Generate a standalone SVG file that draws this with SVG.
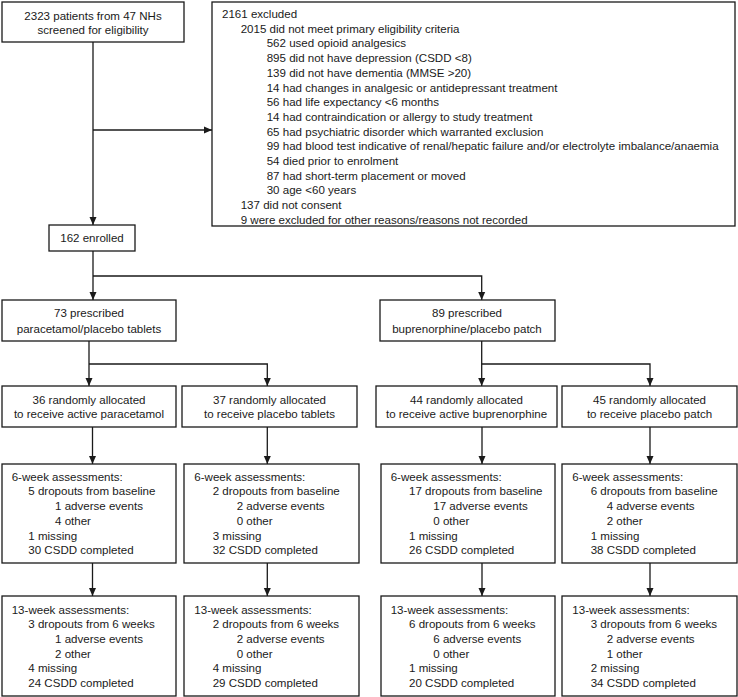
<svg xmlns="http://www.w3.org/2000/svg" width="738" height="697" viewBox="0 0 738 697">
<style>
.bx{fill:#fff;stroke:#1a1a1a;stroke-width:1.3}
text{font-family:"Liberation Sans",Arial,sans-serif;font-size:11.55px;fill:#1a1a1a}
.c{text-anchor:middle}
.ln{fill:none;stroke:#1a1a1a;stroke-width:1.3}
</style>
<defs>
<marker id="ah" viewBox="0 0 8 8" refX="8" refY="4" markerWidth="8" markerHeight="8" markerUnits="userSpaceOnUse" orient="auto">
<path d="M0,0.5 L8,4 L0,7.5 z" fill="#1a1a1a"/>
</marker>
</defs>
<rect width="738" height="697" fill="#fff"/>
<g id="connectors">
<path class="ln" d="M93,42 V225" marker-end="url(#ah)"/>
<path class="ln" d="M93,130 H212" marker-end="url(#ah)"/>
<path class="ln" d="M93,251 V300" marker-end="url(#ah)"/>
<path class="ln" d="M93,276 H481.7 V300" marker-end="url(#ah)"/>
<path class="ln" d="M89,341 V386" marker-end="url(#ah)"/>
<path class="ln" d="M89,364 H267.3 V386" marker-end="url(#ah)"/>
<path class="ln" d="M481.7,341 V386" marker-end="url(#ah)"/>
<path class="ln" d="M481.7,364 H650 V386" marker-end="url(#ah)"/>
<path class="ln" d="M92.5,427 V464" marker-end="url(#ah)"/>
<path class="ln" d="M267.3,427 V464" marker-end="url(#ah)"/>
<path class="ln" d="M482,427 V464" marker-end="url(#ah)"/>
<path class="ln" d="M650,427 V464" marker-end="url(#ah)"/>
<path class="ln" d="M92.5,563 V596" marker-end="url(#ah)"/>
<path class="ln" d="M267.3,563 V596" marker-end="url(#ah)"/>
<path class="ln" d="M482,563 V596" marker-end="url(#ah)"/>
<path class="ln" d="M650,563 V596" marker-end="url(#ah)"/>
</g>
<g id="screened">
<rect class="bx" x="2" y="2" width="182" height="40"/>
<text class="c" x="93" y="20">2323 patients from 47 NHs</text>
<text class="c" x="93" y="34">screened for eligibility</text>
</g>
<g id="excluded">
<rect class="bx" x="212" y="2" width="523" height="224"/>
<text x="222" y="18">2161 excluded</text>
<text x="240.7" y="32.7">2015 did not meet primary eligibility criteria</text>
<text x="266.7" y="47.4">562 used opioid analgesics</text>
<text x="266.7" y="62.1">895 did not have depression (CSDD &lt;8)</text>
<text x="266.7" y="76.8">139 did not have dementia (MMSE &gt;20)</text>
<text x="266.7" y="91.5">14 had changes in analgesic or antidepressant treatment</text>
<text x="266.7" y="106.2">56 had life expectancy &lt;6 months</text>
<text x="266.7" y="120.9">14 had contraindication or allergy to study treatment</text>
<text x="266.7" y="135.6">65 had psychiatric disorder which warranted exclusion</text>
<text x="266.7" y="150.3">99 had blood test indicative of renal/hepatic failure and/or electrolyte imbalance/anaemia</text>
<text x="266.7" y="165">54 died prior to enrolment</text>
<text x="266.7" y="179.7">87 had short-term placement or moved</text>
<text x="266.7" y="194.4">30 age &lt;60 years</text>
<text x="240.7" y="209.1">137 did not consent</text>
<text x="240.7" y="223.8">9 were excluded for other reasons/reasons not recorded</text>
</g>
<g id="enrolled">
<rect class="bx" x="49" y="225" width="86" height="26"/>
<text class="c" x="92" y="241.7">162 enrolled</text>
</g>
<g id="paracetamol">
<rect class="bx" x="2" y="300" width="174" height="41"/>
<text class="c" x="89" y="317.3">73 prescribed</text>
<text class="c" x="89" y="333.3">paracetamol/placebo tablets</text>
</g>
<g id="buprenorphine">
<rect class="bx" x="380" y="300" width="175" height="41"/>
<text class="c" x="467" y="317.3">89 prescribed</text>
<text class="c" x="467" y="333.3">buprenorphine/placebo patch</text>
</g>
<g id="active-paracetamol">
<rect class="bx" x="2" y="386" width="174" height="41"/>
<text class="c" x="89" y="404">36 randomly allocated</text>
<text class="c" x="89" y="418.3">to receive active paracetamol</text>
</g>
<g id="placebo-tablets">
<rect class="bx" x="182" y="386" width="175" height="41"/>
<text class="c" x="269.5" y="404">37 randomly allocated</text>
<text class="c" x="269.5" y="418.3">to receive placebo tablets</text>
</g>
<g id="active-buprenorphine">
<rect class="bx" x="376" y="386" width="181" height="41"/>
<text class="c" x="466.5" y="404">44 randomly allocated</text>
<text class="c" x="466.5" y="418.3">to receive active buprenorphine</text>
</g>
<g id="placebo-patch">
<rect class="bx" x="562" y="386" width="175" height="41"/>
<text class="c" x="649.5" y="404">45 randomly allocated</text>
<text class="c" x="649.5" y="418.3">to receive placebo patch</text>
</g>
<g id="wk6-a">
<rect class="bx" x="2" y="464" width="174" height="99"/>
<text x="11.7" y="480.7">6-week assessments:</text>
<text x="28.3" y="495.4">5 dropouts from baseline</text>
<text x="55" y="510.1">1 adverse events</text>
<text x="55" y="524.8">4 other</text>
<text x="28.3" y="539.5">1 missing</text>
<text x="28.3" y="554.2">30 CSDD completed</text>
</g>
<g id="wk6-b">
<rect class="bx" x="184" y="464" width="175" height="99"/>
<text x="194.3" y="480.7">6-week assessments:</text>
<text x="212.7" y="495.4">2 dropouts from baseline</text>
<text x="236.7" y="510.1">2 adverse events</text>
<text x="236.7" y="524.8">0 other</text>
<text x="212.7" y="539.5">3 missing</text>
<text x="212.7" y="554.2">32 CSDD completed</text>
</g>
<g id="wk6-c">
<rect class="bx" x="381" y="464" width="174" height="99"/>
<text x="390.7" y="480.7">6-week assessments:</text>
<text x="409" y="495.4">17 dropouts from baseline</text>
<text x="433.3" y="510.1">17 adverse events</text>
<text x="433.3" y="524.8">0 other</text>
<text x="409" y="539.5">1 missing</text>
<text x="409" y="554.2">26 CSDD completed</text>
</g>
<g id="wk6-d">
<rect class="bx" x="562" y="464" width="175" height="99"/>
<text x="572.3" y="480.7">6-week assessments:</text>
<text x="590.7" y="495.4">6 dropouts from baseline</text>
<text x="606.7" y="510.1">4 adverse events</text>
<text x="606.7" y="524.8">2 other</text>
<text x="590.7" y="539.5">1 missing</text>
<text x="590.7" y="554.2">38 CSDD completed</text>
</g>
<g id="wk13-a">
<rect class="bx" x="2" y="596" width="174" height="100"/>
<text x="11.7" y="613.7">13-week assessments:</text>
<text x="28.3" y="628.3">3 dropouts from 6 weeks</text>
<text x="55" y="642.9">1 adverse events</text>
<text x="55" y="657.5">2 other</text>
<text x="28.3" y="672.1">4 missing</text>
<text x="28.3" y="686.7">24 CSDD completed</text>
</g>
<g id="wk13-b">
<rect class="bx" x="184" y="596" width="175" height="100"/>
<text x="194.3" y="613.7">13-week assessments:</text>
<text x="212.7" y="628.3">2 dropouts from 6 weeks</text>
<text x="236.7" y="642.9">2 adverse events</text>
<text x="236.7" y="657.5">0 other</text>
<text x="212.7" y="672.1">4 missing</text>
<text x="212.7" y="686.7">29 CSDD completed</text>
</g>
<g id="wk13-c">
<rect class="bx" x="381" y="596" width="174" height="100"/>
<text x="390.7" y="613.7">13-week assessments:</text>
<text x="409" y="628.3">6 dropouts from 6 weeks</text>
<text x="433.3" y="642.9">6 adverse events</text>
<text x="433.3" y="657.5">0 other</text>
<text x="409" y="672.1">1 missing</text>
<text x="409" y="686.7">20 CSDD completed</text>
</g>
<g id="wk13-d">
<rect class="bx" x="562" y="596" width="175" height="100"/>
<text x="572.3" y="613.7">13-week assessments:</text>
<text x="590.7" y="628.3">3 dropouts from 6 weeks</text>
<text x="606.7" y="642.9">2 adverse events</text>
<text x="606.7" y="657.5">1 other</text>
<text x="590.7" y="672.1">2 missing</text>
<text x="590.7" y="686.7">34 CSDD completed</text>
</g>
</svg>
